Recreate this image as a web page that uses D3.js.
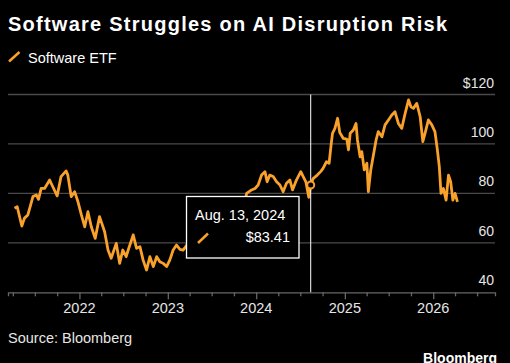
<!DOCTYPE html>
<html>
<head>
<meta charset="utf-8">
<script src="https://cdn.jsdelivr.net/npm/d3@7"></script>
<style>
  html, body { margin: 0; padding: 0; background: #000; }
  svg { display: block; }
  text { font-family: "Liberation Sans", Arial, sans-serif; }
</style>
</head>
<body>
<svg class="mainsvg" width="510" height="363"></svg>
<script>
// Software ETF closing prices
var dates = [
  "2021-04-08","2021-04-19","2021-05-08","2021-05-19","2021-06-02","2021-06-23","2021-07-07","2021-07-16",
  "2021-07-27","2021-08-10","2021-08-31","2021-09-13","2021-10-01","2021-10-17","2021-11-07","2021-11-14",
  "2021-11-28","2021-12-12","2021-12-26","2022-01-09","2022-01-23","2022-02-05","2022-02-19","2022-03-07",
  "2022-03-25","2022-04-15","2022-04-29","2022-05-12","2022-06-02","2022-06-16","2022-06-29","2022-07-13",
  "2022-07-21","2022-08-11","2022-08-25","2022-09-08","2022-09-21","2022-10-05","2022-10-19","2022-11-02",
  "2022-11-16","2022-11-29","2022-12-13","2022-12-27","2023-01-09","2023-01-23","2023-02-06","2023-02-20",
  "2023-03-05","2023-03-20","2023-04-10","2023-05-01","2023-05-22","2023-06-12","2023-07-03","2023-07-24",
  "2023-08-14","2023-09-05","2023-09-26","2023-10-17","2023-10-27","2023-11-08","2023-11-22","2023-12-13",
  "2023-12-27","2024-01-09","2024-01-23","2024-02-06","2024-02-15","2024-02-26","2024-03-11","2024-03-25",
  "2024-04-08","2024-04-21","2024-05-05","2024-05-19","2024-05-30","2024-06-15","2024-07-03","2024-07-13",
  "2024-07-24","2024-08-05","2024-08-13","2024-08-23","2024-09-09","2024-09-23","2024-10-03","2024-10-17",
  "2024-10-28","2024-11-06","2024-11-11","2024-11-21","2024-12-02","2024-12-11","2024-12-25","2025-01-09",
  "2025-01-16","2025-01-23","2025-02-05","2025-02-16","2025-02-22","2025-03-05","2025-03-12","2025-03-22",
  "2025-04-02","2025-04-08","2025-04-18","2025-04-29","2025-05-10","2025-05-19","2025-06-03","2025-06-16",
  "2025-06-30","2025-07-14","2025-07-27","2025-08-10","2025-08-24","2025-09-07","2025-09-21","2025-10-01",
  "2025-10-11","2025-10-25","2025-11-08","2025-11-19","2025-11-28","2025-12-12","2025-12-26","2026-01-08",
  "2026-01-18","2026-01-26","2026-02-02","2026-02-12","2026-02-23","2026-03-05","2026-03-14","2026-03-23",
  "2026-04-01","2026-04-11"
];
var prices = [
  74, 74.6, 66.8, 70, 71.3, 78.7, 79.4, 77.6,
  82, 82, 85.4, 82.7, 79, 86.8, 89.1, 87.4,
  78.7, 80.7, 76.6, 71.3, 66.5, 72.6, 66.5, 61.8,
  70.6, 64.5, 57.1, 53.8, 59.8, 51.7, 57.1, 54.4,
  57, 63.2, 57.8, 58.4, 53, 49, 54.4, 50.4,
  54.4, 52.4, 51.7, 50.4, 53, 57.1, 59.1, 57.4,
  57.1, 59, 61, 60, 66, 70, 71, 73,
  69, 70, 66, 65, 63, 72, 80, 81.4,
  82, 83.4, 87.4, 88.8, 84.7, 87.4, 86.8, 84.7,
  83.4, 80.7, 84.1, 85.4, 81.4, 85.4, 88.8, 86.8,
  84.7, 78.4, 83.41, 86, 87.4, 88.8, 90.1, 92.8,
  92.2, 100.3, 104.3, 106.3, 110.4, 104.6, 102.3, 102,
  97.6, 104.3, 105.6, 108.3, 101.6, 94.8, 96.9, 89.5,
  92.2, 80.7, 89.5, 95.5, 101.6, 105, 102.9, 107.7,
  109.7, 111.7, 113, 108.3, 106.3, 112.4, 117.8, 115,
  114.4, 116.4, 111, 100.9, 104.3, 109.7, 107.7, 105,
  97.6, 90.8, 80, 82, 77.3, 87.4, 84.7, 77.3,
  80, 76.6
];
var yTicks = [40, 60, 80, 100, 120];
var yearTicks = ["2022", "2023", "2024", "2025", "2026"];
var highlightDate = "2024-08-13";
var highlightLabel = "Aug. 13, 2024";
var highlightValue = 83.41;

var _width = 510, _height = 363;
var orange = "#f9a12a";
var parse = d3.timeParse("%Y-%m-%d");
var data = dates.map(function (d, i) { return { date: parse(d), value: prices[i] }; });

var svg = d3.select('.mainsvg');
svg.append('rect').attr('width', _width).attr('height', _height).attr('fill', '#000');

var plotLeft = 8, plotRight = 495, plotTop = 94.5, plotBottom = 292.3;

var x = d3.scaleTime()
  .domain([parse("2021-03-12"), parse("2026-09-13")])
  .range([plotLeft, plotRight]);
var y = d3.scaleLinear()
  .domain([40, 120])
  .range([plotBottom, plotTop]);

// title + legend
svg.append('text')
  .attr('x', 8).attr('y', 30.5)
  .attr('fill', '#fff')
  .attr('font-size', '20px')
  .attr('font-weight', '700')
  .attr('textLength', 439)
  .attr('lengthAdjust', 'spacing')
  .text('Software Struggles on AI Disruption Risk');

svg.append('line')
  .attr('x1', 9).attr('y1', 61.5).attr('x2', 19.5).attr('y2', 52)
  .attr('stroke', orange).attr('stroke-width', 2.5);
svg.append('text')
  .attr('x', 28).attr('y', 62.5)
  .attr('fill', '#fff')
  .attr('font-size', '14.5px')
  .text('Software ETF');

// gridlines + y labels
svg.append('g').selectAll('line')
  .data(yTicks.filter(function (t) { return t > 40; }))
  .join('line')
  .attr('x1', plotLeft).attr('x2', plotRight)
  .attr('y1', function (d) { return y(d); })
  .attr('y2', function (d) { return y(d); })
  .attr('stroke', '#4a4a4a').attr('stroke-width', 1.3);

svg.append('g').selectAll('text')
  .data(yTicks)
  .join('text')
  .attr('x', plotRight - 1)
  .attr('y', function (d) { return y(d) - 7; })
  .attr('fill', '#e6e6e6')
  .attr('font-size', '14px')
  .style('text-anchor', 'end')
  .text(function (d) { return d === 120 ? '$' + d : d; });

// x axis
var xAxis = d3.axisBottom(x)
  .ticks(d3.timeMonth.every(3))
  .tickSize(4)
  .tickFormat('');
var gx = svg.append('g').attr('transform', 'translate(0,' + plotBottom + ')').call(xAxis);
gx.select('.domain').attr('stroke', '#666').attr('stroke-width', 1.3);
gx.selectAll('.tick line').attr('stroke', '#666').attr('stroke-width', 1.3)
  .attr('y2', function (d) { return d.getMonth() === 0 ? 7 : 4; });

svg.append('g').selectAll('text')
  .data(yearTicks)
  .join('text')
  .attr('x', function (d) { return x(parse(d + "-01-01")); })
  .attr('y', 313)
  .attr('fill', '#e6e6e6')
  .attr('font-size', '14.5px')
  .style('text-anchor', 'middle')
  .text(function (d) { return d; });

// price line
var line = d3.line()
  .x(function (d) { return x(d.date); })
  .y(function (d) { return y(d.value); });
svg.append('path')
  .datum(data)
  .attr('d', line)
  .attr('fill', 'none')
  .attr('stroke', orange)
  .attr('stroke-width', 2.8)
  .attr('stroke-linejoin', 'round');

// highlight
var hx = x(parse(highlightDate));
svg.append('line')
  .attr('x1', hx).attr('x2', hx).attr('y1', plotTop).attr('y2', plotBottom)
  .attr('stroke', '#fff').attr('stroke-width', 1);
svg.append('circle')
  .attr('cx', hx).attr('cy', y(highlightValue)).attr('r', 3.5)
  .attr('fill', '#000').attr('stroke', orange).attr('stroke-width', 2);

// tooltip
svg.append('rect')
  .attr('x', 186.5).attr('y', 196.5).attr('width', 112.5).attr('height', 61.5)
  .attr('fill', '#000').attr('stroke', '#fff').attr('stroke-width', 1.3);
svg.append('text')
  .attr('x', 195).attr('y', 220)
  .attr('fill', '#fff').attr('font-size', '14.5px')
  .text(highlightLabel);
svg.append('line')
  .attr('x1', 198).attr('y1', 243).attr('x2', 208).attr('y2', 233.5)
  .attr('stroke', orange).attr('stroke-width', 2.5);
svg.append('text')
  .attr('x', 290).attr('y', 242)
  .attr('fill', '#fff').attr('font-size', '14.5px')
  .style('text-anchor', 'end')
  .text('$' + highlightValue.toFixed(2));

// footer
svg.append('text')
  .attr('x', 8).attr('y', 343)
  .attr('fill', '#e6e6e6').attr('font-size', '14.5px')
  .text('Source: Bloomberg');
svg.append('text')
  .attr('x', 497).attr('y', 363)
  .attr('fill', '#fff').attr('font-size', '14px').attr('font-weight', '700')
  .style('text-anchor', 'end')
  .text('Bloomberg');
</script>
</body>
</html>
